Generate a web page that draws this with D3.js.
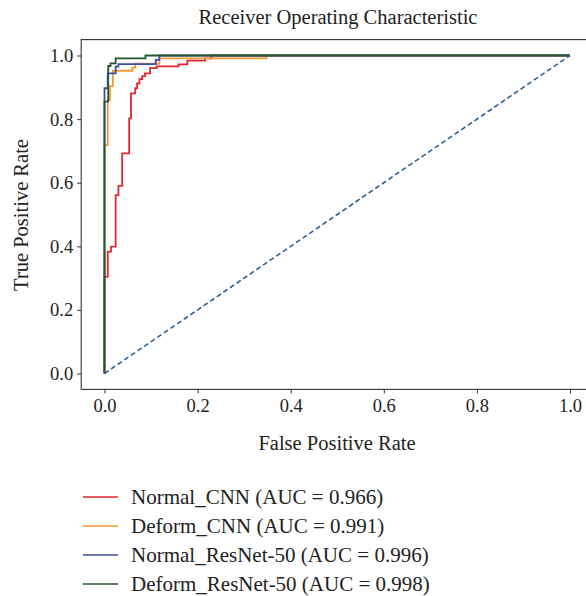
<!DOCTYPE html>
<html>
<head>
<meta charset="utf-8">
<script src="https://cdn.jsdelivr.net/npm/d3@7"></script>
<style>
  body { margin: 0; background: #fff; }
  svg text { font-family: "Liberation Serif", "DejaVu Serif", serif; fill: #222; }
  .axis path, .axis line { stroke: #333; }
</style>
</head>
<body>
<div id="chart"></div>
<script>
// ROC corner points (fpr, tpr) per model
const normalCnnFpr = [0, 0, 0.007, 0.014, 0.024, 0.030, 0.038, 0.053, 0.057, 0.066, 0.070, 0.075, 0.081, 0.087, 0.098, 0.112, 0.159, 0.178, 0.216, 0.230, 1];
const normalCnnTpr = [0, 0.304, 0.383, 0.399, 0.561, 0.590, 0.692, 0.802, 0.881, 0.897, 0.912, 0.926, 0.935, 0.944, 0.960, 0.966, 0.972, 0.984, 0.991, 1, 1];

const deformCnnFpr = [0, 0, 0.007, 0.012, 0.018, 0.060, 0.066, 0.118, 0.348, 1];
const deformCnnTpr = [0, 0.718, 0.860, 0.904, 0.952, 0.962, 0.974, 0.991, 1, 1];

const normalResFpr = [0, 0, 0.007, 0.024, 0.030, 0.110, 0.118, 1];
const normalResTpr = [0, 0.897, 0.944, 0.965, 0.973, 0.986, 1, 1];

const deformResFpr = [0, 0, 0.008, 0.013, 0.024, 0.088, 1];
const deformResTpr = [0, 0.855, 0.967, 0.975, 0.991, 1, 1];

const modelNames = ["Normal_CNN", "Deform_CNN", "Normal_ResNet-50", "Deform_ResNet-50"];
const aucValues = [0.966, 0.991, 0.996, 0.998];
const modelColors = ["#e0282c", "#f39a36", "#3a50a8", "#1f5a2a"];
const tickValues = [0, 0.2, 0.4, 0.6, 0.8, 1.0];

const fprSets = [normalCnnFpr, deformCnnFpr, normalResFpr, deformResFpr];
const tprSets = [normalCnnTpr, deformCnnTpr, normalResTpr, deformResTpr];

const chart = {
    width: 586,
    height: 596,
    left: 81.2,
    right: 593.3,
    top: 39.6,
    bottom: 389.4
};

const svg = d3.select('#chart')
    .append('svg')
    .attr('width', chart.width)
    .attr('height', chart.height);

const xScale = d3.scaleLinear()
    .domain([-0.05, 1.05])
    .range([chart.left, chart.right]);

const yScale = d3.scaleLinear()
    .domain([-0.05, 1.05])
    .range([chart.bottom, chart.top]);

// frame
svg.append('rect')
    .attr('x', chart.left)
    .attr('y', chart.top)
    .attr('width', chart.right - chart.left)
    .attr('height', chart.bottom - chart.top)
    .attr('fill', 'none')
    .attr('stroke', '#333')
    .attr('stroke-width', 1.1);

let xAxis = d3.axisBottom(xScale)
    .tickValues(tickValues)
    .tickSize(4)
    .tickPadding(5)
    .tickFormat(d3.format('.1f'));

let yAxis = d3.axisLeft(yScale)
    .tickValues(tickValues)
    .tickSize(4)
    .tickPadding(4)
    .tickFormat(d3.format('.1f'));

let gx = svg.append('g')
    .attr('class', 'axis')
    .attr('transform', `translate(0, ${chart.bottom})`)
    .call(xAxis);
gx.select('.domain').remove();
gx.selectAll('text').style('font-size', '18.5px').attr('fill', '#222');

let gy = svg.append('g')
    .attr('class', 'axis')
    .attr('transform', `translate(${chart.left}, 0)`)
    .call(yAxis);
gy.select('.domain').remove();
gy.selectAll('text').style('font-size', '18.5px').attr('fill', '#222');

// plot area clip so lines stay inside frame
svg.append('clipPath')
    .attr('id', 'clip')
    .append('rect')
    .attr('x', chart.left)
    .attr('y', chart.top)
    .attr('width', chart.right - chart.left)
    .attr('height', chart.bottom - chart.top);

const plot = svg.append('g').attr('clip-path', 'url(#clip)');

const line = d3.line()
    .x(d => xScale(d[0]))
    .y(d => yScale(d[1]))
    .curve(d3.curveStepAfter);

plot.selectAll('path.roc')
    .data(fprSets.map((f, i) => f.map((v, j) => [v, tprSets[i][j]])))
    .join('path')
        .attr('class', 'roc')
        .attr('d', line)
        .attr('fill', 'none')
        .attr('stroke', (d, i) => modelColors[i])
        .attr('stroke-width', 1.8);

// chance line
plot.append('path')
    .attr('d', d3.line().x(d => xScale(d)).y(d => yScale(d))([0, 1]))
    .attr('fill', 'none')
    .attr('stroke', '#2f5e9a')
    .attr('stroke-width', 1.6)
    .attr('stroke-dasharray', '5,3');

// titles
svg.append('text')
    .attr('x', 338)
    .attr('y', 24)
    .attr('text-anchor', 'middle')
    .style('font-size', '20.5px')
    .text('Receiver Operating Characteristic');

svg.append('text')
    .attr('x', 337)
    .attr('y', 450)
    .attr('text-anchor', 'middle')
    .style('font-size', '20.5px')
    .text('False Positive Rate');

svg.append('text')
    .attr('transform', 'translate(28, 215) rotate(-90)')
    .attr('text-anchor', 'middle')
    .style('font-size', '20.5px')
    .text('True Positive Rate');

// legend
const legend = svg.append('g')
    .selectAll('g')
    .data(modelNames)
    .join('g')
        .attr('transform', (d, i) => `translate(83, ${497 + i * 29})`);

legend.append('line')
    .attr('x1', 0)
    .attr('x2', 35)
    .attr('stroke', (d, i) => modelColors[i])
    .attr('stroke-width', 1.8)
    .attr('opacity', 0.75);

legend.append('text')
    .attr('x', 48)
    .attr('y', 6.5)
    .style('font-size', '21px')
    .text((d, i) => `${d} (AUC = ${aucValues[i].toFixed(3)})`);
</script>
</body>
</html>
